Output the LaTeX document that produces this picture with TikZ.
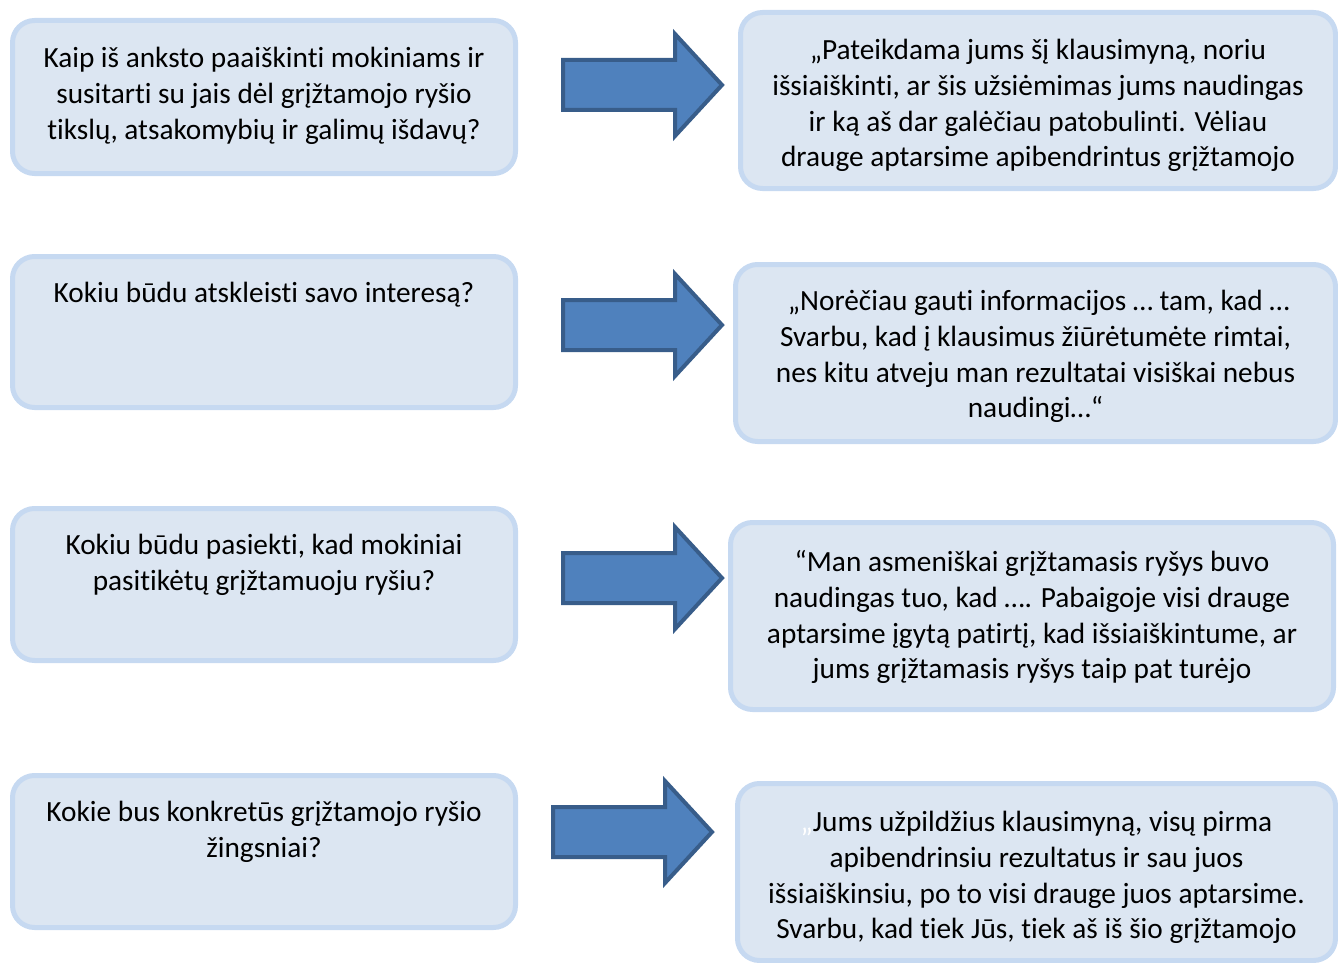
\documentclass[tikz,border=0pt]{standalone}
\usepackage{fontspec}
\setmainfont[Ligatures={NoCommon}]{Carlito}
\definecolor{boxfill}{HTML}{DCE6F2}
\definecolor{boxline}{HTML}{C6D9F1}
\definecolor{arrfill}{HTML}{4F81BD}
\definecolor{arrline}{HTML}{385D8A}
\begin{document}
\begin{tikzpicture}[x=1pt,y=-1pt,
  qbox/.style={draw=boxline, fill=boxfill, line width=5pt, rounded corners=22pt, inner sep=0pt},
  txt/.style={anchor=north, inner sep=0pt, align=center, font=\fontsize{29.3}{35.7}\selectfont},
  arrowshape/.style={draw=arrline, fill=arrfill, line width=4pt, line join=miter},
  blockarrow/.pic={\path[arrowstyle/.try] (2,-25) -- (114,-25) -- (114,-51) -- (161,0) -- (114,51) -- (114,25) -- (2,25) -- cycle;}
]
\useasboundingbox (0,0) rectangle (1338,963);

% left boxes
\node[qbox, minimum width=503pt, minimum height=153pt] (l1) at (264,97) {};
\node[qbox, minimum width=503pt, minimum height=151pt] (l2) at (264,332) {};
\node[qbox, minimum width=503pt, minimum height=152pt] (l3) at (264,584.5) {};
\node[qbox, minimum width=503pt, minimum height=152pt] (l4) at (264,851.5) {};

% right boxes
\node[qbox, minimum width=595pt, minimum height=176pt] (r1) at (1038,100.5) {};
\node[qbox, minimum width=600pt, minimum height=177pt] (r2) at (1035.5,353) {};
\node[qbox, minimum width=603pt, minimum height=187pt] (r3) at (1032,616) {};
\node[qbox, minimum width=598pt, minimum height=177pt] (r4) at (1036.5,872) {};

% texts
\node[txt] (tl1) at ([yshift=-24.5pt]l1.north) {\strut Kaip iš anksto paaiškinti mokiniams ir\\susitarti su jais dėl grįžtamojo ryšio\\tikslų, atsakomybių ir galimų išdavų?};
\node[txt] (tl2) at ([yshift=-23.5pt]l2.north) {\strut Kokiu būdu atskleisti savo interesą?};
\node[txt] (tl3) at ([yshift=-23.5pt]l3.north) {\strut Kokiu būdu pasiekti, kad mokiniai\\pasitikėtų grįžtamuoju ryšiu?};
\node[txt] (tl4) at ([yshift=-23.5pt]l4.north) {\strut Kokie bus konkretūs grįžtamojo ryšio\\žingsniai?};

\node[txt] (tr1) at ([yshift=-24.5pt]r1.north) {\strut „Pateikdama jums šį klausimyną, noriu\\išsiaiškinti, ar šis užsiėmimas jums naudingas\\ir ką aš dar galėčiau patobulinti. Vėliau\\drauge aptarsime apibendrintus grįžtamojo};
\node[txt] (tr2) at ([yshift=-23.5pt]r2.north) {\strut\ „Norėčiau gauti informacijos … tam, kad …\\Svarbu, kad į klausimus žiūrėtumėte rimtai,\\nes kitu atveju man rezultatai visiškai nebus\\naudingi…“};
\node[txt] (tr3) at ([yshift=-26.5pt]r3.north) {\strut “Man asmeniškai grįžtamasis ryšys buvo\\naudingas tuo, kad …. Pabaigoje visi drauge\\aptarsime įgytą patirtį, kad išsiaiškintume, ar\\jums grįžtamasis ryšys taip pat turėjo};
\node[txt] (tr4) at ([yshift=-25.5pt]r4.north) {\strut{\color{white}„}Jums užpildžius klausimyną, visų pirma\\apibendrinsiu rezultatus ir sau juos\\išsiaiškinsiu, po to visi drauge juos aptarsime.\\Svarbu, kad tiek Jūs, tiek aš iš šio grįžtamojo};

% block arrows
\pic[arrowstyle/.style={arrowshape}] at (561,85) {blockarrow};
\pic[arrowstyle/.style={arrowshape}] at (561,325) {blockarrow};
\pic[arrowstyle/.style={arrowshape}] at (561,578) {blockarrow};
\pic[arrowstyle/.style={arrowshape}] at (551,832) {blockarrow};
\end{tikzpicture}
\end{document}
